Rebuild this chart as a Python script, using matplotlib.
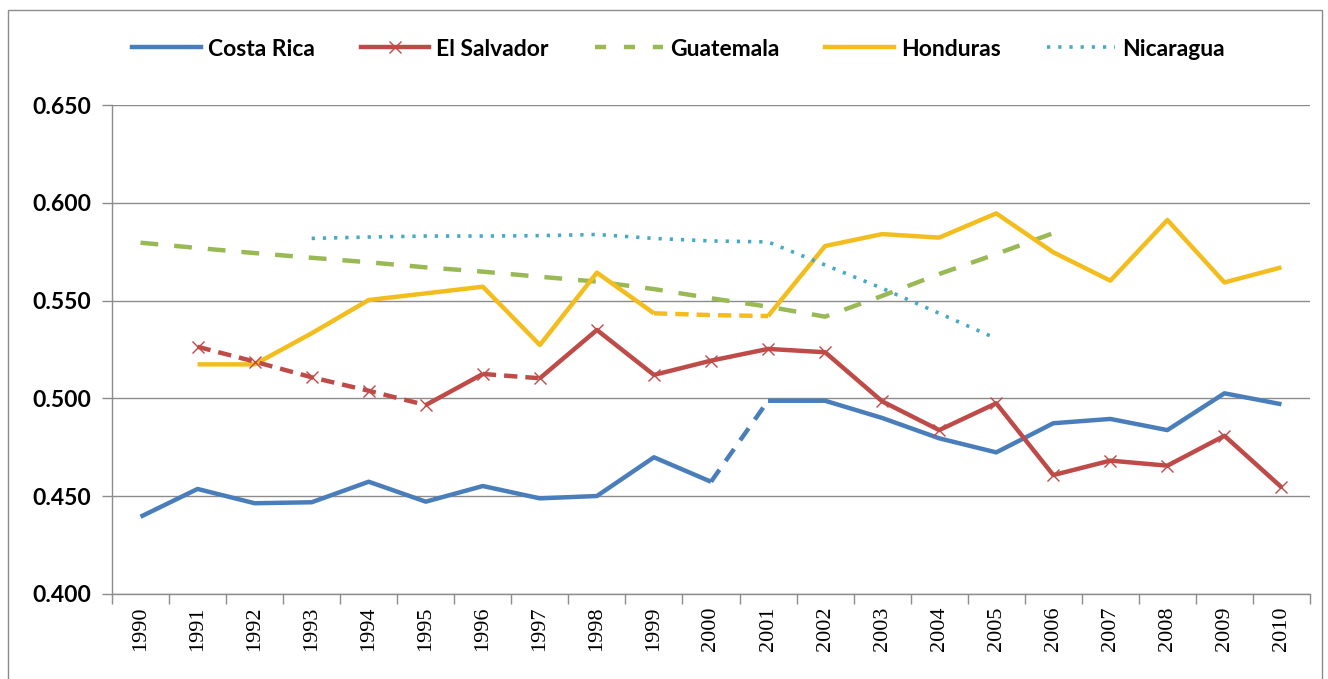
import matplotlib
matplotlib.use("Agg")
import matplotlib.pyplot as plt
from matplotlib.lines import Line2D
from matplotlib.patches import Rectangle
import numpy as np

plt.rcParams["font.family"] = ["Lato", "DejaVu Sans"]

years = list(range(1990, 2011))
nan = np.nan

costa_rica = [0.4395, 0.4537, 0.4464, 0.4469, 0.4574, 0.4472, 0.4552, 0.4489, 0.4501, 0.4699,
              0.4574, 0.4988, 0.4988, 0.4900, 0.4796, 0.4724, 0.4873, 0.4895, 0.4838, 0.5026, 0.4970]
el_salvador = [nan, 0.5264, 0.5188, 0.5108, 0.5039, 0.4966, 0.5125, 0.5103, 0.5350, 0.5120,
               0.5193, 0.5253, 0.5236, 0.4985, 0.4838, 0.4975, 0.4608, 0.4682, 0.4656, 0.4809, 0.4546]
guatemala = [0.5796, 0.5769, 0.5743, 0.5719, 0.5696, 0.5670, 0.5648, 0.5622, 0.5597, 0.5559,
             0.5512, 0.5469, 0.5418, 0.5524, 0.5636, 0.5738, 0.5845, nan, nan, nan, nan]
honduras = [nan, 0.5174, 0.5174, 0.5333, 0.5503, 0.5537, 0.5571, 0.5273, 0.5643, 0.5435,
            0.5426, 0.5421, 0.5779, 0.5840, 0.5822, 0.5946, 0.5747, 0.5602, 0.5912, 0.5593, 0.5670]
nicaragua = [nan, nan, nan, 0.5818, 0.5825, 0.5830, 0.5830, 0.5832, 0.5838, 0.5818,
             0.5805, 0.5800, 0.5682, 0.5563, 0.5435, 0.5306, nan, nan, nan, nan, nan]

# spans (start year, end year) drawn dashed inside otherwise solid series
costa_dashed = [(2000, 2001)]
salvador_dashed = [(1991, 1995), (1996, 1997)]
honduras_dashed = [(1999, 2001)]

C_CR = "#4a7ebb"
C_ES = "#be4b48"
C_GU = "#98b954"
C_HO = "#f2bd1d"
C_NI = "#46aac5"

LW = 3.2
SHORT_DASH = (3.0, 1.8)
NI_DOTS = (0.9, 2.2)


def in_span(y0, spans):
    return any(a <= y0 and y0 + 1 <= b for a, b in spans)


def draw_series(ax, vals, spans, color, dashes, **kw):
    # group consecutive segments with the same style into runs
    runs = []
    for i in range(len(vals) - 1):
        if np.isnan(vals[i]) or np.isnan(vals[i + 1]):
            continue
        d = in_span(years[i], spans)
        if runs and runs[-1][0] == d and runs[-1][2] == i:
            runs[-1][2] = i + 1
        else:
            runs.append([d, i, i + 1])
    for d, a, b in runs:
        x = np.arange(a, b + 1)
        ln, = ax.plot(x, vals[a:b + 1], color=color, lw=LW, solid_capstyle="butt", **kw)
        if d:
            ln.set_dashes(dashes)


fig = plt.figure(figsize=(13.28, 6.79), dpi=100)
fig.patches.append(Rectangle((8 / 1328, -0.01), 1314 / 1328, 1 - 10 / 679 + 0.01,
                             transform=fig.transFigure, fill=False, ec="#8c8c8c", lw=1.0))
ax = fig.add_axes([112 / 1328, 1 - 594 / 679, 1198 / 1328, 489 / 679])

x = np.arange(len(years))
draw_series(ax, costa_rica, costa_dashed, C_CR, (3.3, 2.4), zorder=3)
ax.plot(x, guatemala, color=C_GU, lw=LW, dashes=(4.0, 3.6), zorder=3)
draw_series(ax, honduras, honduras_dashed, C_HO, SHORT_DASH, zorder=3)
ax.plot(x, nicaragua, color=C_NI, lw=2.6, dashes=NI_DOTS, zorder=3)
draw_series(ax, el_salvador, salvador_dashed, C_ES, SHORT_DASH, zorder=4)
ax.plot(x, el_salvador, ls="none", marker="x", ms=9, mew=1.0, color=C_ES, zorder=5)

ax.set_xlim(-0.5, len(years) - 0.5)
ax.set_ylim(0.400, 0.650)
ax.set_yticks(np.arange(0.400, 0.651, 0.050))
ax.yaxis.set_major_formatter(matplotlib.ticker.FormatStrFormatter("%.3f"))
ax.set_xticks(x)
ax.set_xticklabels([str(y) for y in years], rotation=90, fontsize=16,
                   family=["Liberation Serif", "DejaVu Serif"])
ax.set_xticks(np.arange(-0.5, len(years)), minor=True)
ax.tick_params(axis="x", which="major", length=0, pad=9)
ax.tick_params(axis="x", which="minor", length=7, color="#8c8c8c", width=1)
ax.tick_params(axis="y", length=7, color="#8c8c8c", width=1, labelsize=16.5, pad=8)
for t in ax.get_yticklabels():
    t.set_fontweight("bold")
ax.grid(axis="y", color="#8c8c8c", lw=1.0, zorder=0)
ax.set_axisbelow(True)
for s in ("top", "right"):
    ax.spines[s].set_visible(False)
for s in ("left", "bottom"):
    ax.spines[s].set_color("#8c8c8c")
    ax.spines[s].set_linewidth(1.0)

handles = [
    Line2D([], [], color=C_CR, lw=LW),
    Line2D([0, 0.5, 1], [0, 0, 0], color=C_ES, lw=LW, marker="x", ms=9, mew=1.0,
           markevery=[1]),
    Line2D([], [], color=C_GU, lw=LW, dashes=(2.5, 4.0)),
    Line2D([], [], color=C_HO, lw=LW),
    Line2D([], [], color=C_NI, lw=2.6, dashes=NI_DOTS),
]
names = ["Costa Rica", "El Salvador", "Guatemala", "Honduras", "Nicaragua"]
fig.legend(handles, names, loc="center", bbox_to_anchor=(0.511, 1 - 49 / 679), ncol=5,
           frameon=False, prop={"size": 16.5, "weight": "bold"}, handlelength=3.0,
           handletextpad=0.3, columnspacing=2.0)

fig.savefig("out.png", dpi=100)
